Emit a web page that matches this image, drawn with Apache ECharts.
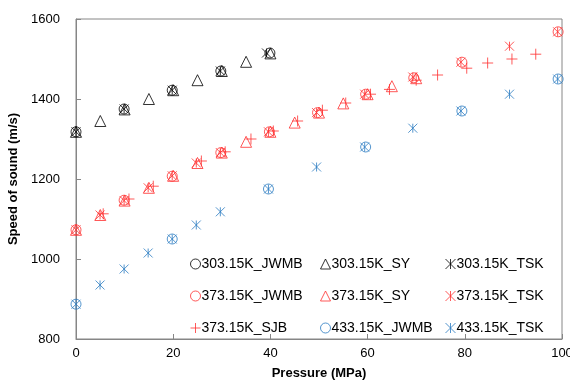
<!DOCTYPE html>
<html><head><meta charset="utf-8">
<script src="https://cdn.jsdelivr.net/npm/echarts@6/dist/echarts.min.js"></script>
<style>html,body{margin:0;padding:0;background:#fff}#c{width:570px;height:381px}</style>
</head><body><div id="c"></div>
<script>
// ---- data ----
const p303JWMB = [0, 9.9, 19.8, 29.8, 39.9];
const v303JWMB = [1318, 1375, 1422, 1470, 1515];
const p303SY = [0, 5, 10, 15, 20, 25, 30, 35, 40];
const v303SY = [1318, 1345, 1374, 1400, 1422, 1447, 1470, 1493, 1514];
const p303TSK = [0, 9.9, 19.8, 29.7, 39.2];
const v303TSK = [1318, 1375, 1422, 1470, 1515];

const p373JWMB = [0, 9.9, 19.8, 29.8, 39.8, 49.7, 59.6, 69.5, 79.4, 99.2];
const v373JWMB = [1073, 1147, 1207, 1266, 1318, 1366, 1412, 1453, 1492, 1568];
const p373SY = [0, 5, 10, 15, 20, 25, 30, 35, 40, 45, 50, 55, 60, 65, 70];
const v373SY = [1073, 1110, 1146, 1178, 1208, 1240, 1266, 1293, 1318, 1341, 1366, 1389, 1412, 1432, 1452];
const p373TSK = [0, 4.95, 9.9, 14.85, 19.8, 24.75, 29.7, 39.6, 49.5, 59.4, 69.3, 79.2, 89.2, 99.1];
const v373TSK = [1073, 1110, 1146, 1178, 1208, 1240, 1266, 1318, 1366, 1412, 1455, 1492, 1532, 1568];
const p373SJB = [5.6, 10.9, 15.9, 25.8, 30.7, 36, 40.6, 45.6, 50.7, 55.5, 60.6, 64.5, 70, 74.4, 80.4, 84.7, 89.7, 94.6, 100.2];
const v373SJB = [1113, 1150, 1182, 1245, 1268, 1300, 1320, 1345, 1372, 1390, 1412, 1424, 1447, 1460, 1477, 1490, 1500, 1512, 1522];

const p433JWMB = [0, 19.8, 39.6, 59.6, 79.4, 99.2];
const v433JWMB = [887, 1050, 1175, 1280, 1370, 1450];
const p433TSK = [0, 4.95, 9.9, 14.85, 19.8, 24.75, 29.7, 39.6, 49.5, 59.4, 69.3, 79.2, 89.2, 99.1];
const v433TSK = [887, 935, 975, 1015, 1050, 1085, 1118, 1175, 1230, 1280, 1327, 1370, 1412, 1450];

const xTicks = [0, 20, 40, 60, 80, 100];
const yTicks = [800, 1000, 1200, 1400, 1600];

// ---- styling ----
const BLACK = '#000000', RED = '#ff3030', BLUE = '#2a7cc2';
const SYM = {
  circle: 'circle',
  triangle: 'triangle',
  asterisk: 'path://M0,0L10,10M10,0L0,10M5,0L5,10',
  plus: 'path://M0,5L10,5M5,0L5,10'
};
const SIZE = {circle: 10, triangle: 11, asterisk: 9, plus: 11};
const zip = (p, v) => p.map((x, i) => [x, v[i]]);

function mk(name, p, v, color, shape) {
  return {
    name, type: 'scatter', data: zip(p, v),
    symbol: SYM[shape], symbolSize: SIZE[shape],
    itemStyle: {color: 'rgba(0,0,0,0)', borderColor: color, borderWidth: 1},
    emphasis: {disabled: true}, silent: true
  };
}

const series = [
  mk('303.15K_JWMB', p303JWMB, v303JWMB, BLACK, 'circle'),
  mk('303.15K_SY', p303SY, v303SY, BLACK, 'triangle'),
  mk('303.15K_TSK', p303TSK, v303TSK, BLACK, 'asterisk'),
  mk('373.15K_JWMB', p373JWMB, v373JWMB, RED, 'circle'),
  mk('373.15K_SY', p373SY, v373SY, RED, 'triangle'),
  mk('373.15K_TSK', p373TSK, v373TSK, RED, 'asterisk'),
  mk('373.15K_SJB', p373SJB, v373SJB, RED, 'plus'),
  mk('433.15K_JWMB', p433JWMB, v433JWMB, BLUE, 'circle'),
  mk('433.15K_TSK', p433TSK, v433TSK, BLUE, 'asterisk')
];

const FONT = 'Liberation Sans';
const legendBase = (left, names) => ({
  orient: 'vertical', left, top: 252, itemGap: 18,
  itemWidth: 10, itemHeight: 10,
  itemStyle: {borderWidth: 1},
  textStyle: {fontFamily: FONT, fontSize: 14, color: '#000', lineHeight: 14, padding: [0, 0, 0, -4]},
  data: names, selectedMode: false
});

const chart = echarts.init(document.getElementById('c'), null, {renderer: 'canvas'});
chart.setOption({
  animation: false,
  backgroundColor: '#fff',
  grid: {left: 76, right: 8, top: 19, bottom: 42, outerBoundsMode: 'none', containLabel: false,
         show: true, borderColor: '#868686', borderWidth: 1},
  xAxis: {
    type: 'value', min: xTicks[0], max: xTicks[xTicks.length - 1], interval: 20,
    name: 'Pressure (MPa)', nameLocation: 'middle', nameGap: 28,
    nameTextStyle: {fontFamily: FONT, fontSize: 13, fontWeight: 'bold', color: '#000'},
    axisLine: {lineStyle: {color: '#868686'}},
    axisTick: {inside: true, length: 5, lineStyle: {color: '#868686'}},
    axisLabel: {fontFamily: FONT, fontSize: 13, color: '#000', margin: 8},
    splitLine: {show: false}
  },
  yAxis: {
    type: 'value', min: yTicks[0], max: yTicks[yTicks.length - 1], interval: 200,
    name: 'Speed of sound (m/s)', nameLocation: 'middle', nameGap: 56, nameRotate: 90,
    nameTextStyle: {fontFamily: FONT, fontSize: 13, fontWeight: 'bold', color: '#000'},
    axisLine: {show: true, lineStyle: {color: '#868686'}},
    axisTick: {show: true, inside: true, length: 5, lineStyle: {color: '#868686'}},
    axisLabel: {fontFamily: FONT, fontSize: 13, color: '#000', margin: 16, formatter: v => String(v)},
    splitLine: {show: false}
  },
  legend: [
    legendBase(185, ['303.15K_JWMB', '373.15K_JWMB', '373.15K_SJB']),
    legendBase(315, ['303.15K_SY', '373.15K_SY', '433.15K_JWMB']),
    legendBase(440, ['303.15K_TSK', '373.15K_TSK', '433.15K_TSK'])
  ],
  series
});
</script>
</body></html>
